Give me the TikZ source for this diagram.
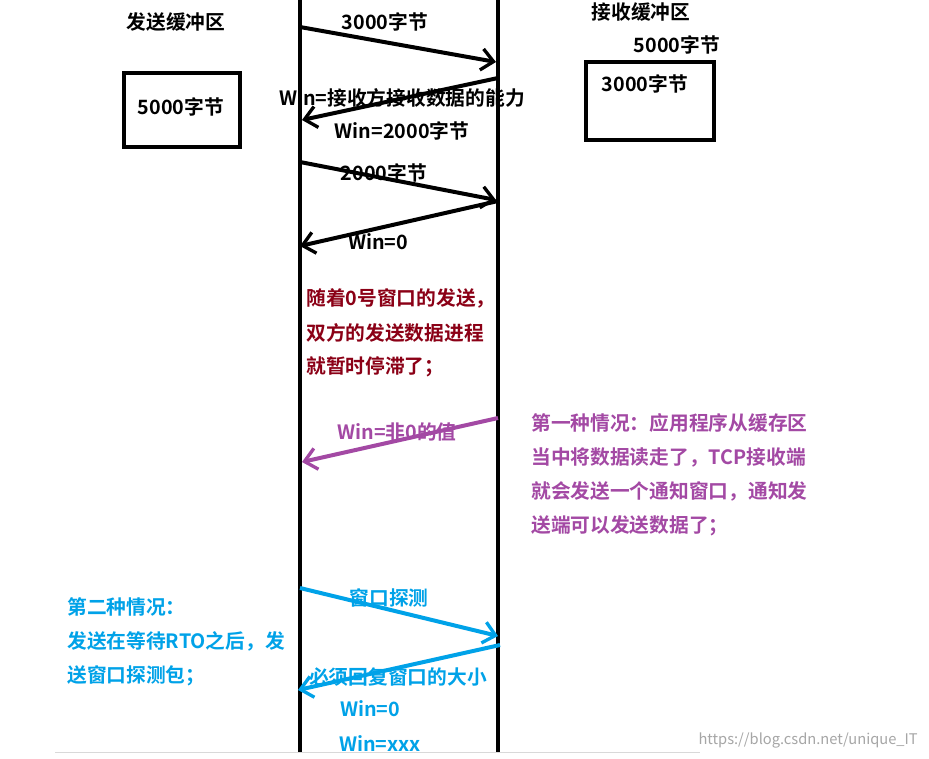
\documentclass[tikz,border=0pt]{standalone}
\usepackage{fontspec}
\setmainfont{Noto Sans CJK SC}[BoldFont={* Bold}]
\usetikzlibrary{arrows.meta}
\definecolor{dred}{HTML}{8B0016}
\definecolor{purp}{HTML}{A349A4}
\definecolor{blu}{HTML}{00A2E8}
\begin{document}
\begin{tikzpicture}[x=0.75pt,y=-0.75pt,
  txt/.style={font=\bfseries\fontsize{14.8}{17}\selectfont,inner sep=0pt},
  ltxt/.style={txt,anchor=west},
  arr/.style={line width=3pt,-{Straight Barb[length=9pt,width=16pt,line width=2.5pt]}},
  bx/.style={draw,line width=3pt}]
\useasboundingbox (0,0) rectangle (929,758);
\fill[white] (0,0) rectangle (929,758);
\coordinate (lt) at (300,0); \coordinate (lb) at (300,752);
\coordinate (rt) at (498,0); \coordinate (rb) at (498,752);
\draw[line width=3pt] (lt) -- (lb);
\draw[line width=3pt] (rt) -- (rb);
\coordinate (g1) at (55,752); \coordinate (g2) at (700,752);
\draw[gray!30] (g1) -- (g2);
\node[txt] (sb) at (176,22) {发送缓冲区};
\node[bx,minimum width=87pt,minimum height=56pt] (sbox) at (182,110) {};
\node[txt] (s5) at (181,107) {5000字节};
\node[txt] (rbf) at (641,12) {接收缓冲区};
\node[txt] (r5) at (677,45) {5000字节};
\node[bx,minimum width=96pt,minimum height=58pt] (rbox) at (650,101) {};
\node[txt] (r3) at (645,84) {3000字节};
% arrows
\coordinate (a1s) at (300,27); \coordinate (a1e) at (496,62);
\draw[arr] (a1s) -- (a1e);
\node[txt] (l1) at (385,22) {3000字节};
\coordinate (a2s) at (498,78); \coordinate (a2e) at (302,120);
\draw[arr] (a2s) -- (a2e);
\node[txt] (l2) at (402,98) {Win=接收方接收数据的能力};
\node[txt] (l2b) at (402,131) {Win=2000字节};
\coordinate (a3s) at (300,162); \coordinate (a3e) at (496,200);
\draw[arr] (a3s) -- (a3e);
\node[txt] (l3) at (384,173) {2000字节};
\coordinate (a4s) at (498,201); \coordinate (a4e) at (300,246);
\draw[arr] (a4s) -- (a4e);
\node[txt] (l4) at (378,242) {Win=0};
\node[ltxt,text=dred] (d1) at (306,298) {随着0号窗口的发送，};
\node[ltxt,text=dred] (d2) at (306,333) {双方的发送数据进程};
\node[ltxt,text=dred] (d3) at (306,367) {就暂时停滞了；};
\coordinate (p1s) at (498,418); \coordinate (p1e) at (302,462);
\draw[arr,purp] (p1s) -- (p1e);
\node[txt,text=purp] (lp) at (397,432) {Win=非0的值};
\node[ltxt,text=purp] (pt1) at (531,423) {第一种情况：应用程序从缓存区};
\node[ltxt,text=purp] (pt2) at (531,457) {当中将数据读走了，TCP接收端};
\node[ltxt,text=purp] (pt3) at (531,491) {就会发送一个通知窗口，通知发};
\node[ltxt,text=purp] (pt4) at (531,526) {送端可以发送数据了；};
\coordinate (b1s) at (300,588); \coordinate (b1e) at (498,636);
\draw[arr,blu] (b1s) -- (b1e);
\node[txt,text=blu] (lb1) at (389,598) {窗口探测};
\coordinate (b2s) at (500,645); \coordinate (b2e) at (298,690);
\draw[arr,blu] (b2s) -- (b2e);
\node[txt,text=blu] (lb2) at (398,677) {必须回复窗口的大小};
\node[txt,text=blu] (lb3) at (370,709) {Win=0};
\node[txt,text=blu] (lb4) at (380,743) {Win=xxx};
\node[ltxt,text=blu] (bt1) at (67,607) {第二种情况：};
\node[ltxt,text=blu] (bt2) at (67,641) {发送在等待RTO之后，发};
\node[ltxt,text=blu] (bt3) at (67,676) {送窗口探测包；};
\node[text=gray!70,font=\fontsize{11}{13}\selectfont,inner sep=0pt,anchor=east] (wm) at (918,740) {https://blog.csdn.net/unique\_IT};
\end{tikzpicture}
\end{document}
